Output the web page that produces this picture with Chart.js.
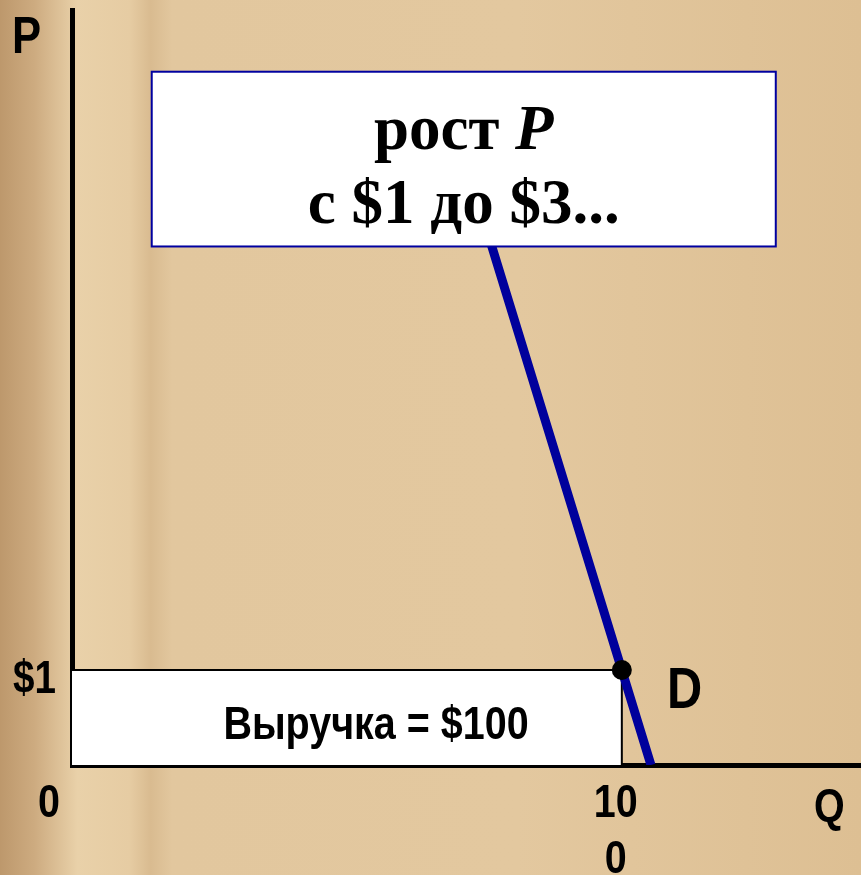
<!DOCTYPE html>
<html>
<head>
<meta charset="utf-8">
<script src="https://cdn.jsdelivr.net/npm/chart.js@4.4.0/dist/chart.umd.min.js"></script>
<style>
  html, body { margin: 0; padding: 0; background: #dfc397; overflow: hidden; }
  canvas { display: block; }
</style>
</head>
<body>
<canvas id="myChart" width="861" height="875"></canvas>
<script>
  // DATA
  var revenueQ = [0, 100, 100];
  var revenueP = [1, 1, 0];
  var demandQ = [105.3, 100, 68.2];
  var demandP = [0, 1, 7];
  var pointQ = [100];
  var pointP = [1];
  var yTicks = [1];
  var yTickLabels = ["$1"];
  var xTicks = [100];
  var xTickLabels = [["10", "0"]];

  var SANS = "'Liberation Sans', Arial, sans-serif";
  var SERIF = "'Liberation Serif', 'Times New Roman', serif";

  const toXY = (xs, ys) => xs.map((x, i) => ({ x: x, y: ys[i] }));

  // bold text squeezed like Arial Narrow
  function narrow(ctx, text, x, y, size, align) {
    ctx.save();
    ctx.font = "bold " + size + "px " + SANS;
    ctx.translate(x, y);
    ctx.scale(0.84, 1);
    ctx.textAlign = align;
    ctx.textBaseline = "alphabetic";
    ctx.fillStyle = "#000";
    ctx.fillText(text, 0, 0);
    ctx.restore();
  }

  // parchment background
  const paper = {
    id: "paper",
    beforeDraw(chart) {
      const ctx = chart.ctx;
      const g = ctx.createLinearGradient(0, 0, chart.width, 0);
      g.addColorStop(0, "#bd986c");
      g.addColorStop(0.04, "#cdab80");
      g.addColorStop(0.09, "#e9d1a9");
      g.addColorStop(0.15, "#e6cca3");
      g.addColorStop(0.175, "#d9bb90");
      g.addColorStop(0.2, "#e2c79e");
      g.addColorStop(0.6, "#e3c89f");
      g.addColorStop(1, "#ddbf93");
      ctx.save();
      ctx.fillStyle = g;
      ctx.fillRect(0, 0, chart.width, chart.height);
      ctx.restore();
    }
  };

  // tick labels, axis names and the note box
  const notes = {
    id: "notes",
    afterDatasetsDraw(chart) {
      const ctx = chart.ctx;
      const xs = chart.scales.x, ys = chart.scales.y;

      yTicks.forEach((v, i) => {
        narrow(ctx, yTickLabels[i], 56, ys.getPixelForValue(v) + 23, 46, "right");
      });
      xTicks.forEach((v, i) => {
        const px = xs.getPixelForValue(v) - 6;
        [].concat(xTickLabels[i]).forEach((line, k) => {
          narrow(ctx, line, px, 817 + k * 56, 47, "center");
        });
      });

      narrow(ctx, "P", 12, 53, 52, "left");
      narrow(ctx, "Q", 814, 821, 47, "left");
      narrow(ctx, "0", 49, 817, 47, "center");
      narrow(ctx, "D", 667, 708, 58, "left");
      narrow(ctx, "Выручка = $100", 376, 739, 47, "center");

      // note box
      ctx.save();
      const l = xs.getPixelForValue(14.5), r = xs.getPixelForValue(128);
      const t = ys.getPixelForValue(7.3), b = ys.getPixelForValue(5.46);
      ctx.fillStyle = "#fff";
      ctx.fillRect(l, t, r - l, b - t);
      ctx.strokeStyle = "#0000a0";
      ctx.lineWidth = 2;
      ctx.strokeRect(l, t, r - l, b - t);

      const cx = (l + r) / 2;
      ctx.fillStyle = "#000";
      ctx.textAlign = "left";
      ctx.textBaseline = "alphabetic";
      ctx.font = "bold 63px " + SERIF;
      const w1 = ctx.measureText("рост ").width;
      ctx.font = "italic bold 63px " + SERIF;
      const w2 = ctx.measureText("P").width;
      const x1 = cx - (w1 + w2) / 2;
      ctx.font = "bold 63px " + SERIF;
      ctx.fillText("рост ", x1, t + 77);
      ctx.font = "italic bold 63px " + SERIF;
      ctx.fillText("P", x1 + w1, t + 77);
      ctx.font = "bold 63px " + SERIF;
      ctx.textAlign = "center";
      ctx.fillText("с $1 до $3...", cx, t + 151);
      ctx.restore();
    }
  };

  new Chart("myChart", {
    type: "scatter",
    data: {
      datasets: [
        {
          data: toXY(pointQ, pointP),
          pointRadius: 10,
          pointBackgroundColor: "#000",
          pointBorderWidth: 0
        },
        {
          data: toXY(demandQ, demandP),
          showLine: true,
          borderColor: "#00009c",
          borderWidth: 9,
          borderCapStyle: "butt",
          pointRadius: 0
        },
        {
          data: toXY(revenueQ, revenueP),
          showLine: true,
          borderColor: "#000",
          borderWidth: 2,
          fill: "origin",
          backgroundColor: "#fff",
          pointRadius: 0
        }
      ]
    },
    options: {
      responsive: false,
      animation: false,
      events: [],
      layout: { autoPadding: false, padding: { top: 10, right: 0, left: 0, bottom: 0 } },
      plugins: { legend: { display: false }, tooltip: { enabled: false } },
      scales: {
        x: {
          type: "linear",
          min: 0,
          max: 143.5,
          grid: { display: false, drawTicks: false },
          border: { display: true, color: "#000", width: 5 },
          afterBuildTicks: (s) => { s.ticks = xTicks.map(v => ({ value: v })); },
          afterFit: (s) => { s.height = 110; },
          ticks: { display: false }
        },
        y: {
          type: "linear",
          min: 0,
          max: 7.95,
          grid: { display: false, drawTicks: false },
          border: { display: true, color: "#000", width: 5 },
          afterBuildTicks: (s) => { s.ticks = yTicks.map(v => ({ value: v })); },
          afterFit: (s) => { s.width = 72; },
          ticks: { display: false }
        }
      }
    },
    plugins: [paper, notes]
  });
</script>
</body>
</html>
